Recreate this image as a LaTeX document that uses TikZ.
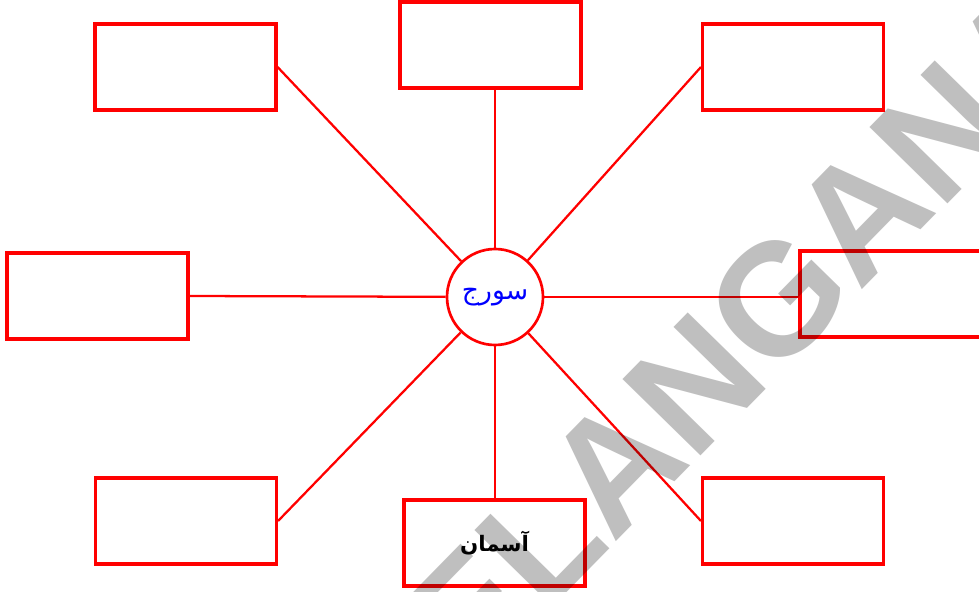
\documentclass[tikz,border=0pt]{standalone}
\usepackage{fontspec}
\TeXXeTstate=1
\newfontfamily\arabicfont[Script=Arabic]{DejaVu Sans}
\newfontfamily\wmfont{Liberation Sans}
\begin{document}
\begin{tikzpicture}[x=0.75pt,y=-0.75pt,
  box/.style={draw=red, line width=2.3pt, minimum width=135.75pt, minimum height=64.5pt, inner sep=0pt},
  sunnode/.style={draw=red, line width=2pt, circle, minimum size=72pt, inner sep=0pt, fill=white},
  conn/.style={draw=red, line width=1.7pt},
  wm/.style={text=black!25, font=\wmfont\bfseries\fontsize{119}{119}\selectfont, inner sep=0pt}]
\useasboundingbox (0,0) rectangle (979,592);
\fill[white] (0,0) rectangle (979,592);

\node[box] (tl) at (185.5,67) {};
\node[box] (t) at (490.5,45) {};
\node[box] (tr) at (793,67) {};
\node[box] (l) at (97.5,296) {};
\node[box] (r) at (890.5,294) {};
\node[box] (bl) at (186,521) {};
\node[box] (b) at (494.5,543) {\arabicfont\fontsize{16}{18}\selectfont\bfseries\beginR آسمان\endR};
\node[box] (br) at (793,521) {};
\node[sunnode] (sun) at (495,297) {\arabicfont\fontsize{20}{22}\selectfont\color{blue}\beginR سورج\endR};

\draw[conn] (sun.north) -- (sun.north |- t.south);
\draw[conn] (tl.east) -- (sun);
\draw[conn] (tr.west) -- (sun);
\draw[conn] (l.east) -- (sun);
\draw[conn] (sun.east) -- (sun.east -| r.west);
\draw[conn] (bl.east) -- (sun);
\draw[conn] (sun.south) -- (sun.south |- b.north);
\draw[conn] (br.west) -- (sun);

\begin{scope}[blend mode=multiply]
\node[wm, rotate=45.6] (water) at (713,365) {TELANGANA};
\end{scope}
\end{tikzpicture}
\end{document}
